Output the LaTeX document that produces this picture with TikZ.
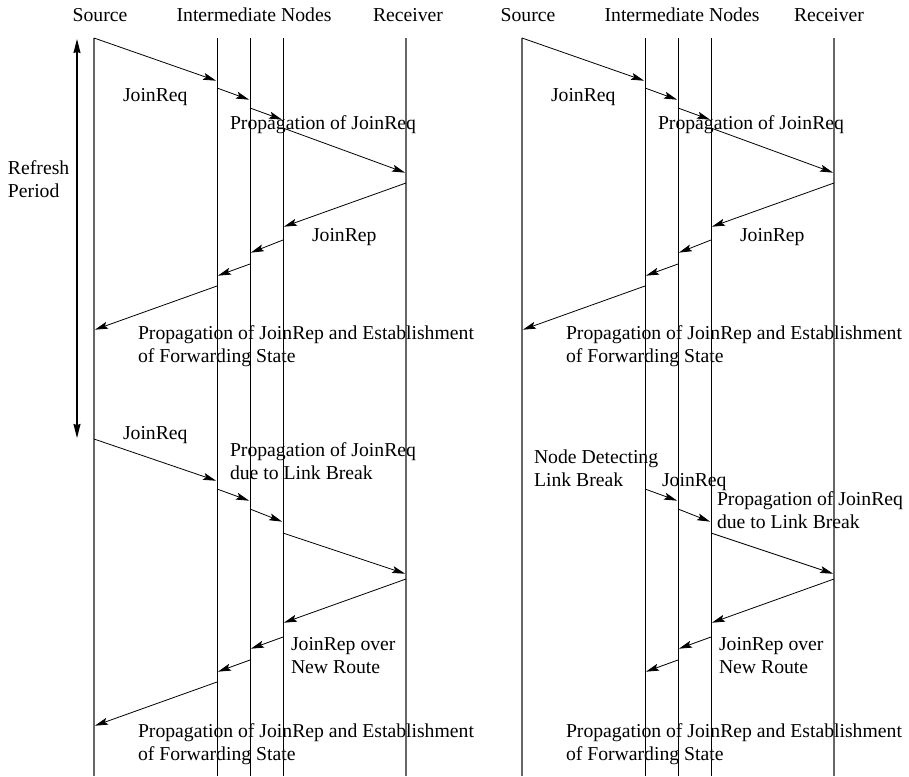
\documentclass[tikz,border=0pt]{standalone}
\usepackage{fontspec}
\setmainfont{Liberation Serif}
\usetikzlibrary{arrows.meta}
\begin{document}
\begin{tikzpicture}[x=1pt,y=-1pt,
  every node/.style={inner sep=0pt,outer sep=0pt,font=\fontsize{19.7}{23}\selectfont},
  endline/.style={draw=black!60,line width=1.2pt},
  midline/.style={draw=black,line width=0.8pt},
  msgarrow/.style={draw=black,line width=0.8pt,-{Stealth[length=13pt,width=7pt,inset=2.5pt]},shorten >=1pt},
  refresh/.style={draw=black,line width=1.1pt,{Stealth[length=14pt,width=7pt,inset=1pt]}-{Stealth[length=14pt,width=7pt,inset=1pt]}},
  lbl/.style={anchor=base west,align=left},
  head/.style={anchor=base}]
\useasboundingbox (0,0) rectangle (909,776);

% message exchange between two lifelines: from (#1 at height #2) to (#3 at height #4)
\newcommand\msgto[4]{\draw[msgarrow] (#1 |- 0,#2) -- (#3 |- 0,#4);}

% ---------- lifeline tops ----------
\coordinate (S)  at (94,38);
\coordinate (A)  at (217,38);
\coordinate (B)  at (250,38);
\coordinate (C)  at (283,38);
\coordinate (R)  at (406,38);
\coordinate (S2) at (522,38);
\coordinate (A2) at (645,38);
\coordinate (B2) at (678,38);
\coordinate (C2) at (711,38);
\coordinate (R2) at (834,38);

% ---------- lifelines ----------
\foreach \n in {S,R,S2,R2} \draw[endline] (\n) -- (\n |- 0,776);
\foreach \n in {A,B,C,A2,B2,C2} \draw[midline] (\n) -- (\n |- 0,776);

% ---------- column headings ----------
\node[head] (hS)  at (100,22) {Source};
\node[head] (hI)  at (254,22) {Intermediate Nodes};
\node[head] (hR)  at (408,22) {Receiver};
\node[head] (hS2) at (528,22) {Source};
\node[head] (hI2) at (682,22) {Intermediate Nodes};
\node[head] (hR2) at (829,22) {Receiver};

% ---------- refresh period ----------
% (multi-line labels are placed by the baseline of their last line)
\coordinate (rtop) at (77,39);
\coordinate (rbot) at (77,438);
\draw[refresh] (rtop) -- (rbot);
\node[lbl] (refr) at (8,197) {Refresh\\Period};

% ---------- left: regular refresh ----------
\msgto{S}{38}{A}{81}
\msgto{A}{88}{B}{100}
\msgto{B}{108}{C}{120}
\msgto{C}{128}{R}{173}
\msgto{R}{183}{C}{227}
\msgto{C}{240}{B}{253}
\msgto{B}{264}{A}{276}
\msgto{A}{286}{S}{330}
\node[lbl] (l1) at (123,101) {JoinReq};
\node[lbl] (l2) at (230,129) {Propagation of JoinReq};
\node[lbl] (l3) at (312,241) {JoinRep};
\node[lbl] (l4) at (138,362) {Propagation of JoinRep and Establishment\\of Forwarding State};

% ---------- left: refresh after link break ----------
\msgto{S}{439}{A}{481}
\msgto{A}{489}{B}{501}
\msgto{B}{509}{C}{522}
\msgto{C}{533}{R}{574}
\msgto{R}{579}{C}{623}
\msgto{C}{637}{B}{649}
\msgto{B}{660}{A}{672}
\msgto{A}{682}{S}{726}
\node[lbl] (l5) at (123,439) {JoinReq};
\node[lbl] (l6) at (230,479) {Propagation of JoinReq\\due to Link Break};
\node[lbl] (l7) at (291,673) {JoinRep over\\New Route};
\node[lbl] (l8) at (138,760) {Propagation of JoinRep and Establishment\\of Forwarding State};

% ---------- right: regular refresh ----------
\msgto{S2}{38}{A2}{81}
\msgto{A2}{88}{B2}{100}
\msgto{B2}{108}{C2}{120}
\msgto{C2}{128}{R2}{173}
\msgto{R2}{183}{C2}{227}
\msgto{C2}{240}{B2}{253}
\msgto{B2}{264}{A2}{276}
\msgto{A2}{286}{S2}{330}
\node[lbl] (r1) at (551,101) {JoinReq};
\node[lbl] (r2) at (658,129) {Propagation of JoinReq};
\node[lbl] (r3) at (740,241) {JoinRep};
\node[lbl] (r4) at (566,362) {Propagation of JoinRep and Establishment\\of Forwarding State};

% ---------- right: local repair at the detecting node ----------
\msgto{A2}{489}{B2}{501}
\msgto{B2}{509}{C2}{522}
\msgto{C2}{533}{R2}{574}
\msgto{R2}{579}{C2}{623}
\msgto{C2}{637}{B2}{649}
\msgto{B2}{660}{A2}{672}
\node[lbl] (r5) at (534,486) {Node Detecting\\Link Break};
\node[lbl] (r6) at (662,486) {JoinReq};
\node[lbl] (r7) at (717,528) {Propagation of JoinReq\\due to Link Break};
\node[lbl] (r8) at (719,673) {JoinRep over\\New Route};
\node[lbl] (r9) at (566,760) {Propagation of JoinRep and Establishment\\of Forwarding State};
\end{tikzpicture}
\end{document}
